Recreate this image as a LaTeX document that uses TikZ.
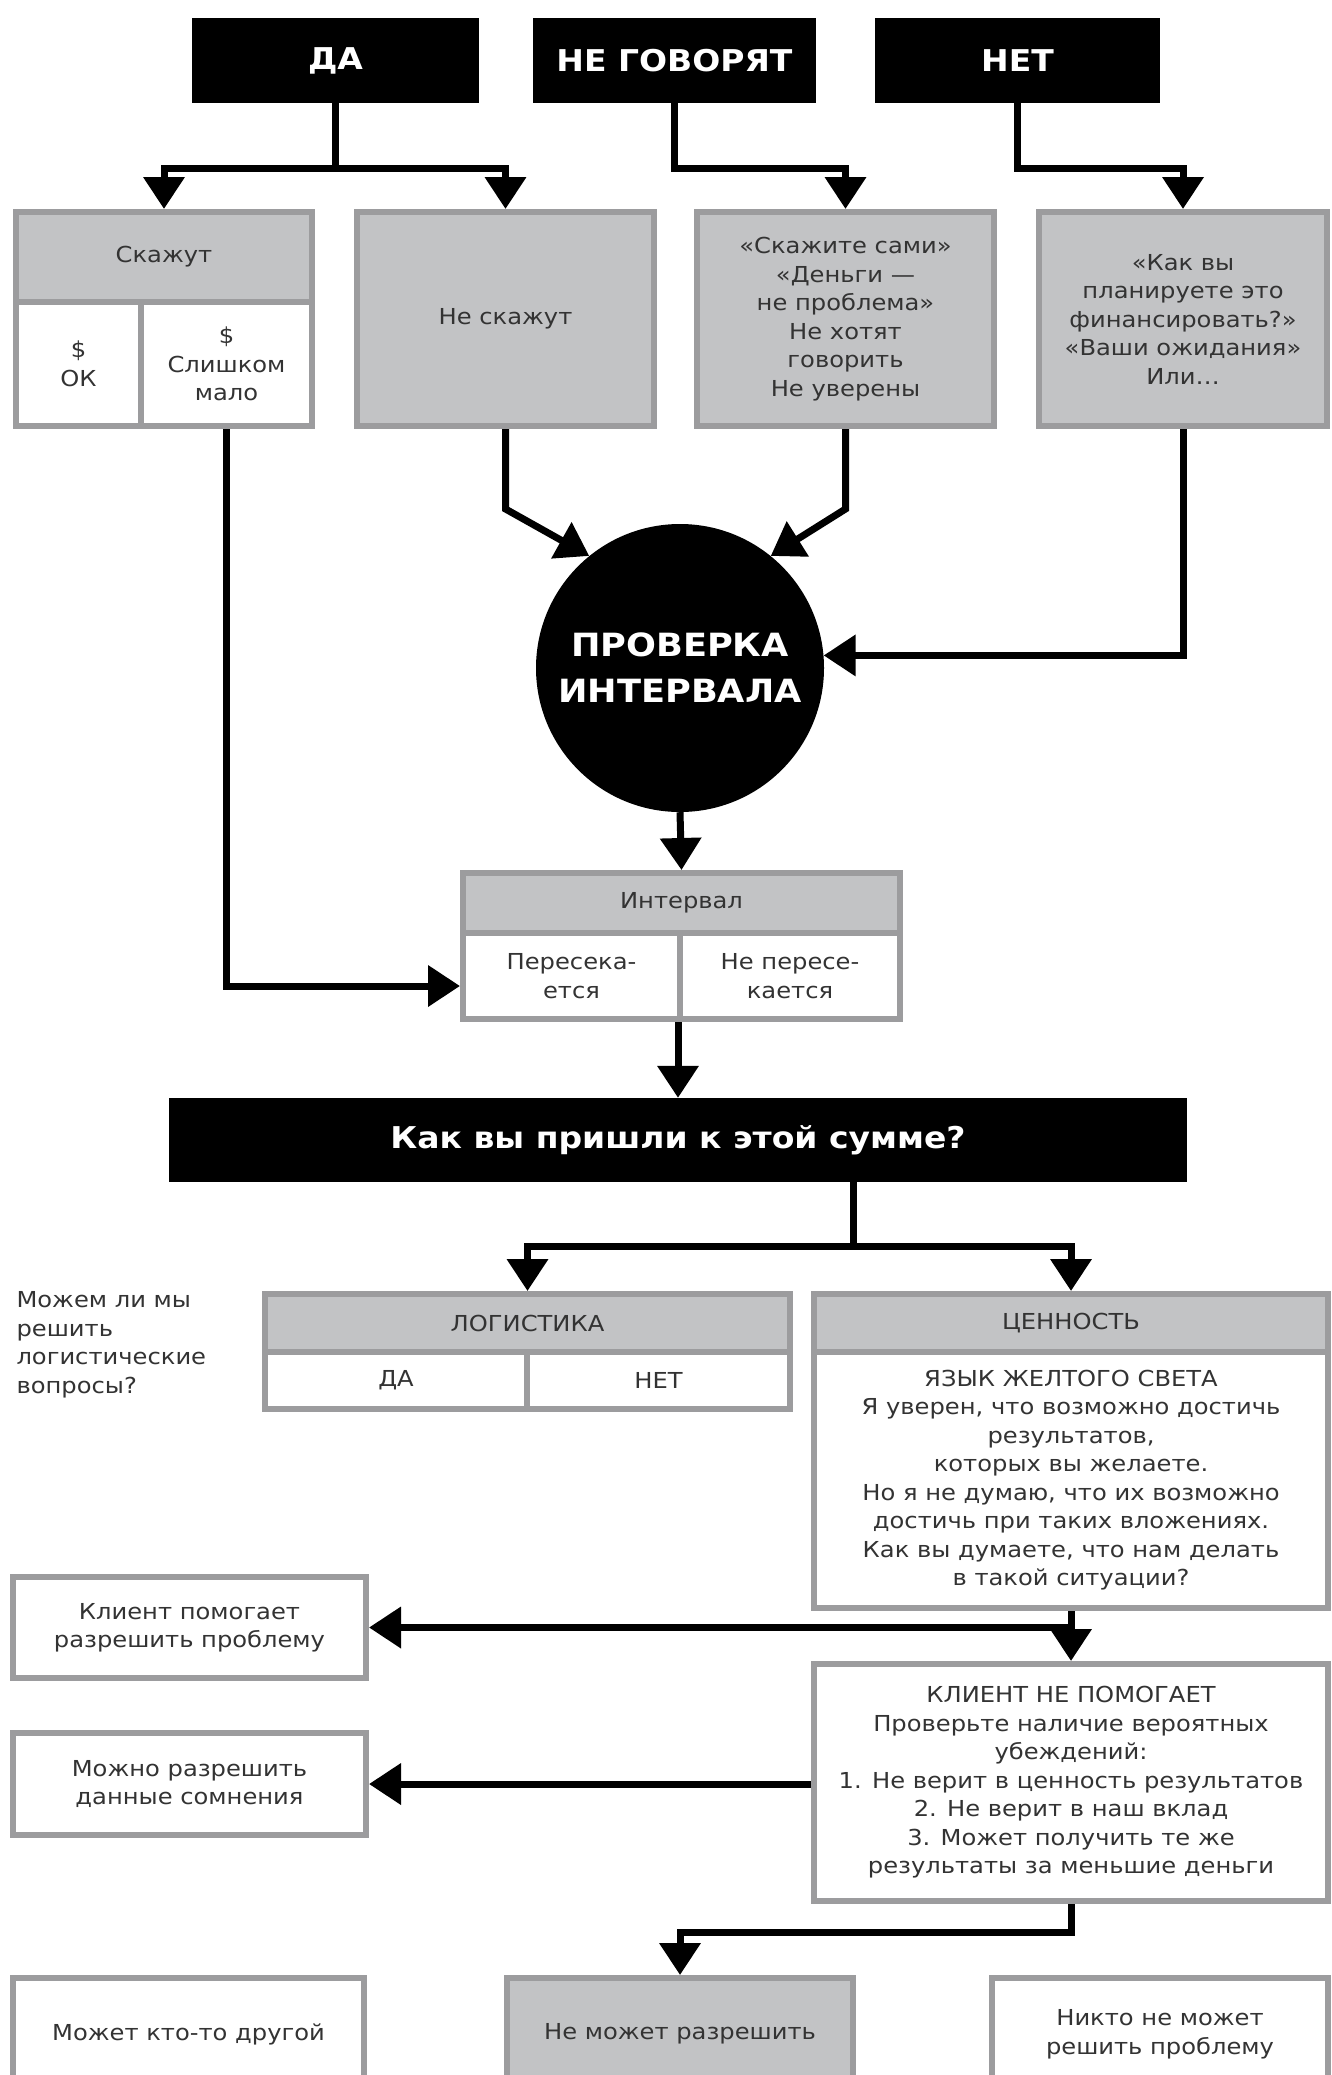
\documentclass[tikz,border=0pt]{standalone}
\usepackage{fontspec}
\setmainfont{DejaVu Sans}[FakeStretch=1.1]
\usetikzlibrary{arrows.meta,calc}

\definecolor{boxgray}{HTML}{C2C3C5}
\definecolor{linegray}{HTML}{9C9C9E}
\definecolor{ink}{HTML}{333333}

\newcommand{\bodysize}{\fontsize{22}{28.5}\selectfont}
\newcommand{\headsize}{\fontsize{30}{36}\selectfont\bfseries}
\newcommand{\circsize}{\fontsize{32}{46}\selectfont\bfseries}

\tikzset{
  blk/.style={fill=black, text=white, font=\headsize, inner sep=0pt, minimum height=85pt},
  cell/.style={draw=linegray, line width=6pt, text=ink, font=\bodysize, align=center, inner sep=0pt},
  gcell/.style={cell, fill=boxgray},
  wcell/.style={cell, fill=white},
  link/.style={line width=7pt},
  arr/.style={line width=7pt, -{Triangle[width=40pt,length=32pt]}},
}

\begin{document}
\begin{tikzpicture}[x=1pt, y=-1pt]
\useasboundingbox (0,0) rectangle (1331,2075);
\fill[white] (0,0) rectangle (1331,2075);
\clip (0,0) rectangle (1331,2075);

% top row
\node[blk, minimum width=287pt] (da) at (335.5,60.5) {ДА};
\node[blk, minimum width=283pt] (negov) at (674.5,60.5) {НЕ ГОВОРЯТ};
\node[blk, minimum width=285pt] (net) at (1017.5,60.5) {НЕТ};

% answers
\node[gcell, minimum width=296pt, minimum height=90pt] (skazhut) at (164,257) {Скажут};
\node[wcell, minimum width=125pt, minimum height=124pt] (ok) at (78.5,364) {\$\\ОК};
\node[wcell, minimum width=171pt, minimum height=124pt] (malo) at (226.5,364) {\$\\Слишком\\мало};
\node[gcell, minimum width=297pt, minimum height=214pt] (neskazhut) at (505.5,319) {Не скажут};
\node[gcell, minimum width=297pt, minimum height=214pt] (sami) at (845.5,319)
  {«Скажите сами»\\«Деньги —\\не проблема»\\Не хотят\\говорить\\Не уверены};
\node[gcell, minimum width=288pt, minimum height=214pt] (kak) at (1183,319)
  {«Как вы\\планируете это\\финансировать?»\\«Ваши ожидания»\\Или…};

% check
\node[circle, fill=black, text=white, font=\circsize, align=center, minimum size=288pt, inner sep=0pt]
  (chk) at (680,668) {ПРОВЕРКА\\ИНТЕРВАЛА};

\node[gcell, minimum width=437pt, minimum height=60pt] (intv) at (681.5,903) {Интервал};
\node[wcell, minimum width=217pt, minimum height=86pt] (peres) at (571.5,976) {Пересека-\\ется};
\node[wcell, minimum width=220pt, minimum height=86pt] (nepers) at (790,976) {Не пересе-\\кается};

\node[blk, minimum width=1018pt, minimum height=84pt] (q) at (678,1140) {Как вы пришли к этой сумме?};

% logistics / value
\node[text=ink, font=\bodysize, align=left, anchor=west] (note) at (13,1345)
  {Можем ли мы\\решить\\логистические\\вопросы?};
\node[gcell, minimum width=525pt, minimum height=58pt] (logh) at (527.5,1323) {ЛОГИСТИКА};
\node[wcell, minimum width=262pt, minimum height=57pt] (lda) at (396,1380.5) {ДА};
\node[wcell, minimum width=263pt, minimum height=57pt] (lnet) at (658.5,1380.5) {НЕТ};
\node[gcell, minimum width=514pt, minimum height=58pt] (valh) at (1071,1323) {ЦЕННОСТЬ};
\node[wcell, minimum width=514pt, minimum height=256pt] (valb) at (1071,1480)
  {ЯЗЫК ЖЕЛТОГО СВЕТА\\Я уверен, что возможно достичь\\результатов,\\которых вы желаете.\\Но я не думаю, что их возможно\\достичь при таких вложениях.\\Как вы думаете, что нам делать\\в такой ситуации?};

% client
\node[wcell, minimum width=353pt, minimum height=101pt] (pomog) at (189.5,1627.5) {Клиент помогает\\разрешить проблему};
\node[wcell, minimum width=514pt, minimum height=237pt] (np) at (1071,1782.5)
  {КЛИЕНТ НЕ ПОМОГАЕТ\\Проверьте наличие вероятных\\убеждений:\\1. Не верит в ценность результатов\\2. Не верит в наш вклад\\3. Может получить те же\\результаты за меньшие деньги};
\node[wcell, minimum width=353pt, minimum height=102pt] (mozhno) at (189.5,1784) {Можно разрешить\\данные сомнения};

% bottom row
\node[wcell, minimum width=351pt, minimum height=112pt] (drugoy) at (188.5,2034) {Может кто-то другой};
\node[gcell, minimum width=346pt, minimum height=112pt] (nemozhet) at (680,2034) {Не может разрешить};
\node[wcell, minimum width=336pt, minimum height=112pt] (nikto) at (1160,2034) {Никто не может\\решить проблему};

% bends
\coordinate (jda) at (335.5,168);
\coordinate (jng) at (674.5,168);
\coordinate (jnt) at (1017.5,168);
\coordinate (b1) at (505.5,509);
\coordinate (b2) at (845.5,509);
\coordinate (jq) at (853,1246);
\coordinate (jnp) at (1071,1932);
\coordinate (inp) at ($(peres.west)+(0,10)$);

% connections
\draw[link] (da.south) -- (jda);
\draw[arr] (jda) -| (skazhut.north);
\draw[arr] (jda) -| (neskazhut.north);
\draw[arr] (negov.south) -- (jng) -| (sami.north);
\draw[arr] (net.south) -- (jnt) -| (kak.north);
\draw[arr] (neskazhut.south) -- (b1) -- (chk.129);
\draw[arr] (sami.south) -- (b2) -- (chk.51);
\draw[arr] (kak.south) |- (chk.5);
\draw[arr] (chk.south) -- (intv.north);
\draw[arr] (malo.south) |- (inp);
\draw[arr] (q.north |- peres.south) -- (q.north);
\draw[link] (q.south -| jq) -- (jq);
\draw[arr] (jq) -| (logh.north);
\draw[arr] (jq) -| (valh.north);
\draw[arr] (valb.south) -- (np.north);
\draw[arr] (valb.south |- pomog.east) -- (pomog.east);
\draw[arr] (np.west |- mozhno.east) -- (mozhno.east);
\draw[arr] (np.south) -- (jnp) -| (nemozhet.north);

\end{tikzpicture}
\end{document}
